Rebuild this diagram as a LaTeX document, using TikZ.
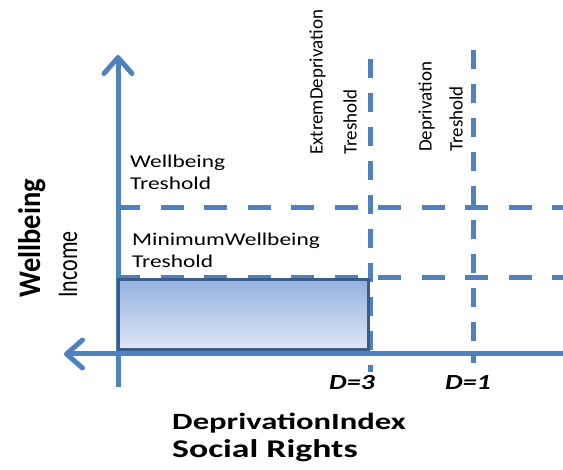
\documentclass[tikz,border=0pt]{standalone}
\usepackage{fontspec}
\setmainfont{Carlito}
\newfontfamily\widefont[FakeStretch=1.3]{Carlito}
\newfontfamily\widerfont[FakeStretch=1.4]{Carlito}
\usetikzlibrary{arrows.meta}
\definecolor{axisblue}{HTML}{4F81BD}
\definecolor{boxedge}{HTML}{385D8A}
\definecolor{boxtop}{HTML}{93B1DF}
\definecolor{boxbot}{HTML}{DFE7F5}
\tikzset{
  axisline/.style={line width=5pt, color=axisblue, -{Straight Barb[length=16pt,width=28pt,round]}},
  hthres/.style={line width=5pt, color=axisblue, dash pattern=on 23pt off 20.5pt},
  vthres/.style={line width=5pt, color=axisblue, dash pattern=on 19pt off 15pt},
  lbl/.style={inner sep=0pt, align=left, font=\widefont\fontsize{18}{22}\selectfont},
  vlbl/.style={inner sep=0pt, align=left, rotate=90, anchor=south west},
}

\begin{document}
\begin{tikzpicture}[x=1pt, y=-1pt]
		%%%%% FRAME %%%%%
		\useasboundingbox (0,0) rectangle (563,470);
		
		\coordinate (O) at (118,354);
		\coordinate (ytop) at (118,55);
		\coordinate (ybot) at (118,387);
		\coordinate (xleft) at (64,354);
		\coordinate (xright) at (563,354);
		
		%%%%% THRESHOLDS %%%%%
		\draw[hthres] (117,208) -- (563,208);
		\draw[hthres] (117,278) -- (563,278);
		\draw[vthres] (370,59) -- (370,372);
		\draw[vthres] (473,50) -- (473,363);
		
		%%%%% AXES %%%%%
		\draw[axisline] (ybot) -- (ytop);
		\draw[axisline] (xright) -- (xleft);
		
		%%%%% POOR BOX %%%%%
		\draw[line width=3pt, color=boxedge, top color=boxtop, bottom color=boxbot] (118,279.5) rectangle (368.5,349.5);
		
		%%%%% LABELS %%%%%
		\node[lbl, anchor=north west] (wbt) at (130,155) {Wellbeing\\Treshold};
		\node[lbl, anchor=north west] (mwt) at (132,233) {MinimumWellbeing\\Treshold};
		
		\node[vlbl, font=\fontsize{19}{34}\selectfont] (edt) at (357,155) {ExtremDeprivation\\Treshold};
		\node[vlbl, font=\fontsize{19}{31}\selectfont] (dt) at (463,152) {Deprivation\\Treshold};
		
		\node[inner sep=0pt, font=\widefont\bfseries\itshape\fontsize{21.5}{24}\selectfont] (d3) at (352,383) {D=3};
		\node[inner sep=0pt, font=\widefont\bfseries\itshape\fontsize{21.5}{24}\selectfont] (d1) at (468,383) {D=1};
		
		\node[rotate=90, anchor=base west, inner sep=0pt, font=\bfseries\fontsize{28.5}{30}\selectfont] (ytitle) at (40,298) {\scalebox{1}[1.1]{Wellbeing}};
		\node[rotate=90, anchor=base west, inner sep=0pt, font=\fontsize{22}{24}\selectfont] (yunit) at (77,298) {\scalebox{1}[1.3]{Income}};
		
		\node[anchor=base west, inner sep=0pt, font=\widerfont\bfseries\fontsize{23.3}{26}\selectfont] (xtitle) at (172,430) {DeprivationIndex};
		\node[anchor=base west, inner sep=0pt, font=\widerfont\bfseries\fontsize{25.5}{28}\selectfont] (xsub) at (172,458) {Social Rights};
		
		%%%%% END %%%%%
\end{tikzpicture}
\end{document}
